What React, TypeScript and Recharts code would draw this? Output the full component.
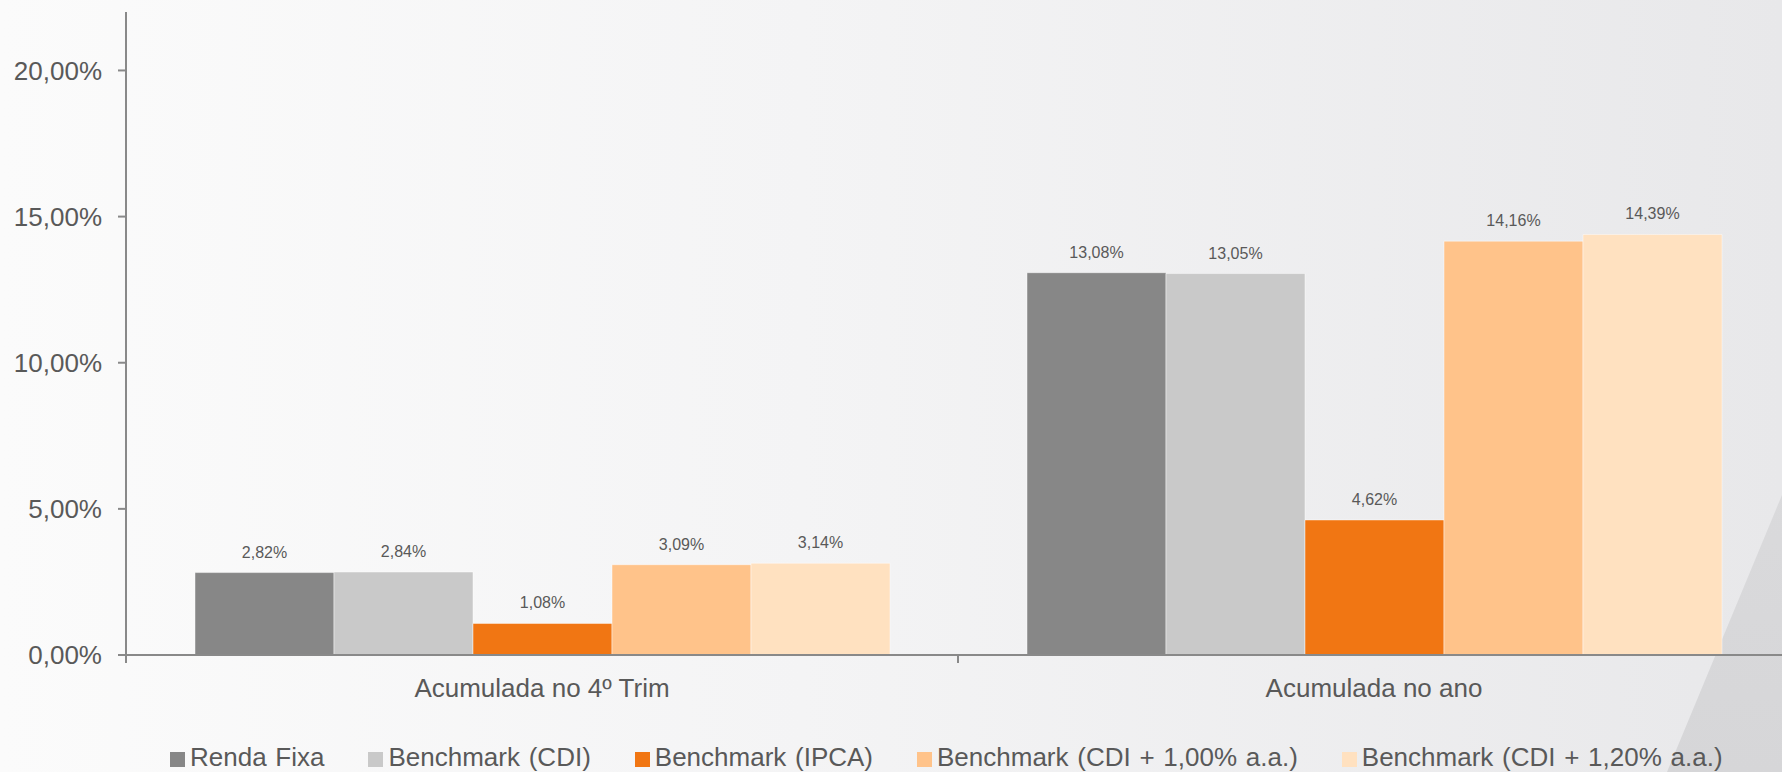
import { Bar, BarChart, LabelList, Legend, XAxis, YAxis } from "recharts";

const CATEGORIES = ["Acumulada no 4º Trim", "Acumulada no ano"];
const SERIES_NAMES = [
  "Renda Fixa",
  "Benchmark (CDI)",
  "Benchmark (IPCA)",
  "Benchmark (CDI + 1,00% a.a.)",
  "Benchmark (CDI + 1,20% a.a.)",
];
const RENDA_FIXA = [2.82, 13.08];
const CDI = [2.84, 13.05];
const IPCA = [1.08, 4.62];
const CDI_100 = [3.09, 14.16];
const CDI_120 = [3.14, 14.39];
const Y_TICKS = [0, 5, 10, 15, 20];
const COLORS = ["#878787", "#c9c9c9", "#f17613", "#ffc38a", "#ffe1c0"];

const SERIES = [RENDA_FIXA, CDI, IPCA, CDI_100, CDI_120];
const rows = CATEGORIES.map((name, i) => {
  const r: Record<string, string | number> = { name };
  SERIES.forEach((s, k) => (r[`s${k}`] = s[i]));
  return r;
});

const FONT = "'Liberation Sans', Arial, sans-serif";
const TEXT = "#595959";
const AXIS = "#898989";
const W = 1800;
const H = 772;
const M = { top: 12, right: 10, left: 0, bottom: 0 };
const Y_W = 126;
const TICK = 8;
const TICK_GAP = 16;
const BAND = (W - M.left - M.right - Y_W) / CATEGORIES.length;

const pct = (v: number) => `${Number(v).toFixed(2).replace(".", ",")}%`;

// category label plus Excel-style tick marks on the band edges
function CatTick(props: any) {
  const { x, y, payload, index } = props;
  const axisY = y - TICK - TICK_GAP;
  const left = x - BAND / 2;
  return (
    <g>
      <line x1={left} x2={left} y1={axisY} y2={axisY + TICK} stroke={AXIS} strokeWidth={2} />
      {index === CATEGORIES.length - 1 && (
        <line x1={x + BAND / 2} x2={x + BAND / 2} y1={axisY} y2={axisY + TICK} stroke={AXIS} strokeWidth={2} />
      )}
      <text x={x} y={y} dy="0.71em" textAnchor="middle" fill={TEXT} fontSize={26} fontFamily={FONT}>
        {payload.value}
      </text>
    </g>
  );
}

function LegendRow() {
  return (
    <div
      style={{
        display: "flex",
        alignItems: "center",
        height: 30,
        fontFamily: FONT,
        fontSize: 26,
        wordSpacing: 1.5,
        color: TEXT,
        whiteSpace: "nowrap",
      }}
    >
      {SERIES_NAMES.map((n, i) => (
        <div key={n} style={{ display: "flex", alignItems: "center", marginRight: 44 }}>
          <span style={{ display: "inline-block", width: 15, height: 15, background: COLORS[i], marginRight: 5, marginTop: 4 }} />
          {n}
        </div>
      ))}
    </div>
  );
}

export default function App() {
  return (
    <div
      style={{
        position: "absolute",
        left: 0,
        top: 0,
        width: 1782,
        height: 772,
        overflow: "hidden",
        background: "linear-gradient(to right, #fbfbfb 0%, #f4f4f5 45%, #e8e8ea 100%)",
      }}
    >
      <div
        style={{
          position: "absolute",
          inset: 0,
          background: "linear-gradient(to bottom, #e0e0e2, #d6d6d8)",
          clipPath: "polygon(1782px 495px, 1667px 772px, 1782px 772px)",
        }}
      />
      <div style={{ position: "absolute", left: 0, top: 0 }}>
        <BarChart width={W} height={H} data={rows} margin={M} barGap={0} barSize={139}>
          <XAxis
            dataKey="name"
            height={87}
            axisLine={{ stroke: AXIS, strokeWidth: 2 }}
            tickLine={false}
            tickSize={TICK}
            tickMargin={TICK_GAP}
            tick={<CatTick />}
            interval={0}
          />
          <YAxis
            width={Y_W}
            domain={[0, 22]}
            ticks={Y_TICKS}
            tickFormatter={pct}
            axisLine={{ stroke: AXIS, strokeWidth: 2 }}
            tickLine={{ stroke: AXIS, strokeWidth: 2 }}
            tickSize={TICK}
            tickMargin={TICK_GAP}
            tick={{ fill: TEXT, fontSize: 26, fontFamily: FONT }}
          />
          <Legend verticalAlign="bottom" align="left" wrapperStyle={{ left: 170, bottom: 0, width: "auto", height: 30 }} content={<LegendRow />} />
          {SERIES_NAMES.map((n, k) => (
            <Bar key={n} dataKey={`s${k}`} name={n} fill={COLORS[k]} stroke="rgba(255,255,255,0.45)" strokeWidth={1} isAnimationActive={false}>
              <LabelList dataKey={`s${k}`} position="top" offset={15} formatter={(v: any) => pct(v)} fill={TEXT} fontSize={16} fontFamily={FONT} />
            </Bar>
          ))}
        </BarChart>
      </div>
    </div>
  );
}
